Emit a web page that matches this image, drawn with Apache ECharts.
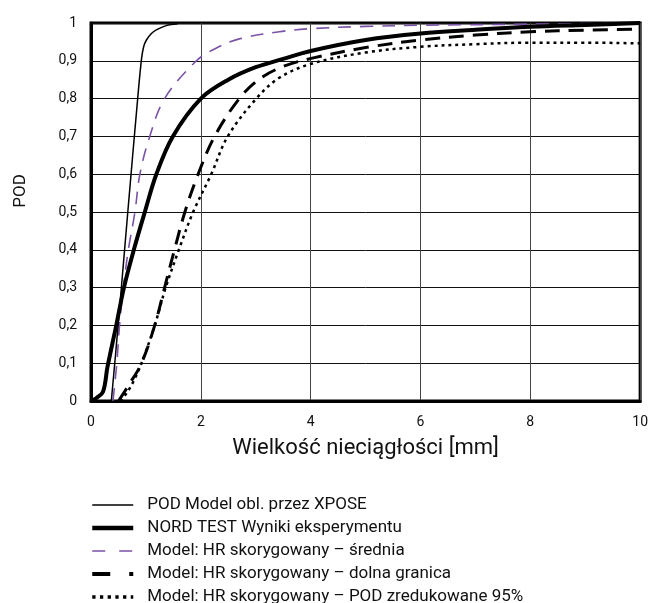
<!DOCTYPE html>
<html>
<head>
<meta charset="utf-8">
<script src="https://cdn.jsdelivr.net/npm/echarts@6/dist/echarts.min.js"></script>
<style>
html,body{margin:0;padding:0;background:#fff;}
#chart{width:651px;height:603px;}
</style>
</head>
<body>
<div id="chart"></div>
<script>
var seriesNames = [
  'POD Model obl. przez XPOSE',
  'NORD TEST Wyniki eksperymentu',
  'Model: HR skorygowany – średnia',
  'Model: HR skorygowany – dolna granica',
  'Model: HR skorygowany – POD zredukowane 95%'
];
var xTicks = [0, 2, 4, 6, 8, 10];
var yTicks = [0, 0.1, 0.2, 0.3, 0.4, 0.5, 0.6, 0.7, 0.8, 0.9, 1];

var xposeData = [[0.37,0],[0.5,0.21],[0.67,0.5],[0.85,0.8],[0.92,0.905],[0.96,0.938],[1.01,0.955],[1.1,0.972],[1.19,0.982],[1.37,0.993],[1.58,0.998]];
var nordData = [[0,0],[0.1,0.008],[0.22,0.025],[0.3,0.09],[0.46,0.2],[0.6,0.3],[0.78,0.4],[0.98,0.5],[1.19,0.6],[1.49,0.7],[2,0.8],[2.5,0.85],[3,0.883],[3.5,0.905],[4,0.926],[5,0.955],[6,0.972],[7,0.982],[8,0.99],[9,0.995],[10,1.0]];
var meanData = [[0.40,0],[0.47,0.1],[0.52,0.2],[0.59,0.3],[0.68,0.4],[0.80,0.5],[0.89,0.6],[1.07,0.7],[1.34,0.8],[1.92,0.9],[2.3,0.935],[2.7,0.958],[3.43,0.977],[4,0.985],[5,0.991],[6,0.994],[8,0.997],[10,1.0]];
var lowerData = [[0.5,0],[0.7,0.045],[0.92,0.1],[1.16,0.2],[1.34,0.3],[1.52,0.4],[1.71,0.5],[1.95,0.6],[2.25,0.7],[2.7,0.8],[3.07,0.852],[3.5,0.885],[4.03,0.907],[5,0.935],[6,0.955],[7,0.968],[8,0.977],[9,0.981],[10,0.984]];
var pod95Data = [[0.53,0],[0.62,0.015],[0.75,0.045],[0.92,0.1],[1.16,0.2],[1.36,0.3],[1.6,0.4],[1.86,0.5],[2.19,0.6],[2.49,0.7],[3.01,0.8],[3.43,0.855],[4.03,0.893],[5,0.922],[6,0.937],[7,0.944],[8,0.948],[9,0.948],[10,0.946]];

var font = 'Roboto, "Liberation Sans", sans-serif';
var chart = echarts.init(document.getElementById('chart'), null, {renderer: 'canvas'});

var seriesStyles = [
  {color: '#000', width: 1.5, type: 'solid'},
  {color: '#000', width: 4, type: 'solid'},
  {color: '#7a52a6', width: 1.6, type: [13, 9]},
  {color: '#000', width: 3, type: [15, 9]},
  {color: '#000', width: 2.5, type: [3, 4]}
];
var legendStyles = [
  {color: '#000', width: 1.5, type: 'solid'},
  {color: '#000', width: 4.5, type: 'solid'},
  {color: '#7a52a6', width: 1.5, type: [13, 14]},
  {color: '#000', width: 4, type: [18, 19]},
  {color: '#000', width: 3.3, type: [3.3, 4.4]}
];
var seriesData = [xposeData, nordData, meanData, lowerData, pod95Data];

var series = seriesNames.map(function (n, i) {
  return {
    name: n, type: 'line', data: seriesData[i], symbol: 'none', showSymbol: false,
    smooth: 0.35, lineStyle: seriesStyles[i], itemStyle: {color: seriesStyles[i].color},
    z: 5 - i, animation: false
  };
});
var legendData = seriesNames.map(function (n, i) {
  return {name: n, lineStyle: legendStyles[i], itemStyle: {color: 'rgba(0,0,0,0)', opacity: 0}};
});

chart.setOption({
  animation: false,
  grid: {left: 91, right: 9, top: 23, bottom: 202, show: true, borderColor: '#000', borderWidth: 3, containLabel: false},
  xAxis: {
    type: 'value', min: 0, max: 10, interval: 2,
    name: 'Wielkość nieciągłości [mm]', nameLocation: 'middle', nameGap: 36,
    nameTextStyle: {fontFamily: font, fontSize: 22, color: '#111'},
    axisLine: {show: true, lineStyle: {color: '#000', width: 3}},
    axisTick: {show: false},
    axisLabel: {fontFamily: font, fontSize: 14, color: '#111', margin: 14,
      formatter: function (v) { return xTicks.indexOf(v) >= 0 ? String(v) : ''; }},
    splitLine: {show: true, lineStyle: {color: '#444', width: 1}}
  },
  yAxis: {
    type: 'value', min: 0, max: 1, interval: 0.1,
    axisLine: {show: true, lineStyle: {color: '#000', width: 3}},
    axisTick: {show: false},
    axisLabel: {fontFamily: font, fontSize: 14, color: '#111', margin: 14,
      formatter: function (v) {
        var r = Math.round(v * 10) / 10;
        if (r === 0) return '0';
        if (r === 1) return '1';
        return r.toFixed(1).replace('.', ',');
      }},
    splitLine: {show: true, lineStyle: {color: '#111', width: 1}}
  },
  graphic: [{
    type: 'text', x: 21, y: 191, rotation: Math.PI / 2,
    style: {text: 'POD', fontFamily: font, fontSize: 17, fill: '#111', align: 'center', verticalAlign: 'middle'}
  }],
  legend: {
    orient: 'vertical', left: 90, top: 495, height: 140, padding: 0,
    itemWidth: 41, itemHeight: 14, itemGap: 3,
    itemStyle: {color: 'rgba(0,0,0,0)', borderWidth: 0, opacity: 0},
    textStyle: {fontFamily: font, fontSize: 17, color: '#111', lineHeight: 20, padding: [0, 0, 0, 9]},
    data: legendData
  },
  series: series
});
</script>
</body>
</html>
